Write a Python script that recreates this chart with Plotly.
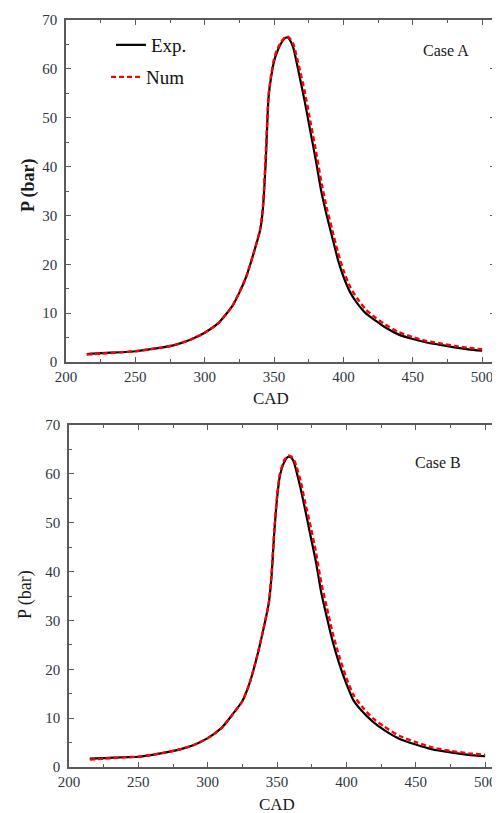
import plotly.graph_objects as go

# ---- Case A data ----
cad_exp_a = [215, 225, 240, 250, 260, 270, 280, 290, 300, 310, 320, 325, 330, 335, 340, 342, 344, 346,
             348, 350, 352, 355, 358, 360, 362, 364, 368, 372, 376, 380, 384, 388, 392, 396, 400, 405,
             410, 416, 423, 430, 440, 450, 460, 470, 480, 490, 500]
p_exp_a = [1.6, 1.8, 2.0, 2.2, 2.6, 3.0, 3.6, 4.6, 6.0, 8.0, 11.5, 14.2, 17.5, 22.0, 27.0, 31.5, 41.0, 54.0,
           58.5, 61.5, 63.3, 65.2, 66.3, 66.4, 65.6, 64.2, 59.0, 53.5, 47.5, 41.5, 35.0, 30.0, 25.5, 21.0, 17.5, 14.2,
           12.0, 10.0, 8.5, 7.1, 5.6, 4.7, 4.0, 3.5, 3.0, 2.6, 2.3]
cad_num_a = [215, 225, 240, 250, 260, 270, 280, 290, 300, 310, 320, 325, 330, 335, 340, 342, 344, 346,
             348, 350, 352, 355, 358, 360, 362, 364, 368, 372, 376, 380, 384, 388, 392, 396, 400, 405,
             410, 416, 423, 430, 440, 450, 460, 470, 480, 490, 500]
p_num_a = [1.5, 1.7, 2.0, 2.2, 2.6, 3.0, 3.6, 4.6, 6.0, 8.0, 11.5, 14.3, 17.5, 22.0, 27.3, 32.0, 42.5, 54.5,
           59.0, 62.0, 63.8, 65.5, 66.5, 66.6, 66.0, 65.0, 60.5, 55.5, 49.5, 43.5, 37.0, 31.5, 27.0, 22.5, 18.8, 15.3,
           13.0, 10.8, 9.1, 7.7, 6.1, 5.1, 4.3, 3.8, 3.3, 2.9, 2.6]

# ---- Case B data ----
cad_exp_b = [215, 225, 240, 250, 260, 270, 280, 290, 300, 310, 318, 325, 330, 335, 340, 344, 346, 348,
             350, 352, 355, 358, 360, 362, 364, 367, 370, 374, 378, 382, 386, 390, 395, 400, 405, 412,
             419, 427, 438, 450, 462, 475, 488, 500]
p_exp_b = [1.7, 1.8, 2.0, 2.1, 2.5, 3.0, 3.6, 4.5, 5.9, 8.0, 10.8, 13.5, 17.0, 22.0, 28.0, 33.5, 39.0, 48.0,
           55.0, 59.5, 62.3, 63.5, 63.4, 62.5, 60.5, 57.0, 53.0, 47.5, 42.0, 35.5, 30.5, 25.8, 21.0, 17.0, 13.7, 11.2,
           9.3, 7.6, 5.8, 4.6, 3.6, 3.0, 2.5, 2.2]
cad_num_b = [215, 225, 240, 250, 260, 270, 280, 290, 300, 310, 318, 325, 330, 335, 340, 344, 346, 348,
             350, 352, 355, 358, 360, 362, 364, 367, 370, 374, 378, 382, 386, 390, 395, 400, 405, 412,
             419, 427, 438, 450, 462, 475, 488, 500]
p_num_b = [1.5, 1.7, 2.0, 2.1, 2.5, 3.0, 3.6, 4.5, 5.9, 8.0, 10.8, 13.5, 17.0, 22.0, 28.0, 33.5, 39.5, 48.5,
           55.5, 60.0, 62.7, 63.7, 63.6, 63.0, 61.5, 58.5, 54.5, 49.5, 44.0, 37.5, 32.5, 27.5, 22.5, 18.2, 14.8, 12.1,
           10.0, 8.3, 6.4, 5.1, 4.0, 3.3, 2.8, 2.5]

x_ticks = [200, 250, 300, 350, 400, 450, 500]
y_ticks = [0, 10, 20, 30, 40, 50, 60, 70]

SERIF = "Liberation Serif, Times New Roman, serif"
AXC = "#5a5a5a"
TXT = "#2e3540"

# page has an 8px body margin: figure is drawn at (8, 8) in the 500x813 window
OFF = 8
W, H = 500 - OFF, 813 - OFF


def fx(px):
    return (px - OFF) / W


def fy(py):
    return 1 - (py - OFF) / H


fig = go.Figure()
fig.add_trace(go.Scatter(x=cad_exp_a, y=p_exp_a, mode="lines", name="Exp.", legend="legend",
                         line=dict(color="black", width=2.2, shape="spline", smoothing=0.6),
                         xaxis="x", yaxis="y"))
fig.add_trace(go.Scatter(x=cad_num_a, y=p_num_a, mode="lines", name="Num", legend="legend2",
                         line=dict(color="red", width=2.4, dash="5px,3px", shape="spline", smoothing=0.6),
                         xaxis="x", yaxis="y"))
fig.add_trace(go.Scatter(x=cad_exp_b, y=p_exp_b, mode="lines", name="Exp.", showlegend=False,
                         line=dict(color="black", width=2.2, shape="spline", smoothing=0.6),
                         xaxis="x2", yaxis="y2"))
fig.add_trace(go.Scatter(x=cad_num_b, y=p_num_b, mode="lines", name="Num", showlegend=False,
                         line=dict(color="red", width=2.4, dash="5px,3px", shape="spline", smoothing=0.6),
                         xaxis="x2", yaxis="y2"))


def xax(domain, anchor, rng):
    return dict(domain=domain, anchor=anchor, range=rng, tickvals=x_ticks, automargin=False,
                ticks="inside", ticklen=5, tickwidth=1.3, tickcolor=AXC, ticklabelstandoff=0,
                minor=dict(ticks="inside", ticklen=3, dtick=25, tick0=200, tickcolor=AXC, tickwidth=1),
                showline=True, linecolor=AXC, linewidth=1.6, mirror="allticks",
                showgrid=False, zeroline=False,
                tickfont=dict(family=SERIF, size=15, color=TXT))


def yax(domain, anchor):
    return dict(domain=domain, anchor=anchor, range=[0, 70], tickvals=y_ticks, automargin=False,
                ticks="inside", ticklen=5, tickwidth=1.3, tickcolor=AXC, ticklabelstandoff=4,
                minor=dict(ticks="inside", ticklen=3, dtick=5, tick0=0, tickcolor=AXC, tickwidth=1),
                showline=True, linecolor=AXC, linewidth=1.6, mirror="allticks",
                showgrid=False, zeroline=False,
                tickfont=dict(family=SERIF, size=15, color=TXT))


leg_common = dict(xanchor="left", yanchor="middle", bgcolor="rgba(0,0,0,0)", borderwidth=0,
                  itemwidth=30, font=dict(family=SERIF, size=19, color="#111"))


def note(text, px, py, size, angle=0):
    return dict(text=text, x=fx(px), y=fy(py), xref="paper", yref="paper", showarrow=False,
                xanchor="center", yanchor="middle", textangle=angle,
                font=dict(family=SERIF, size=size, color="#1a1a1a"))


fig.update_layout(
    template="none",
    width=W, height=H,
    margin=dict(l=0, r=0, t=0, b=0, autoexpand=False),
    paper_bgcolor="white", plot_bgcolor="white",
    xaxis=xax([fx(66), fx(495)], "y", [200, 509.3]),
    yaxis=yax([fy(362), fy(20)], "x"),
    xaxis2=xax([fx(69), fx(499)], "y2", [200, 510]),
    yaxis2=yax([fy(767), fy(425)], "x2"),
    showlegend=True,
    legend=dict(x=fx(111), y=fy(45), **leg_common),
    legend2=dict(x=fx(106), y=fy(77), **leg_common),
    annotations=[
        note("Case A", 446, 51, 16),
        note("Case B", 438, 463, 16),
        note("<b>P (bar)</b>", 28, 185, 18, -90),
        note("P (bar)", 25, 595, 18, -90),
        note("CAD", 271, 398, 17),
        note("CAD", 277, 804, 17),
    ],
)

fig.write_html("out.html")
